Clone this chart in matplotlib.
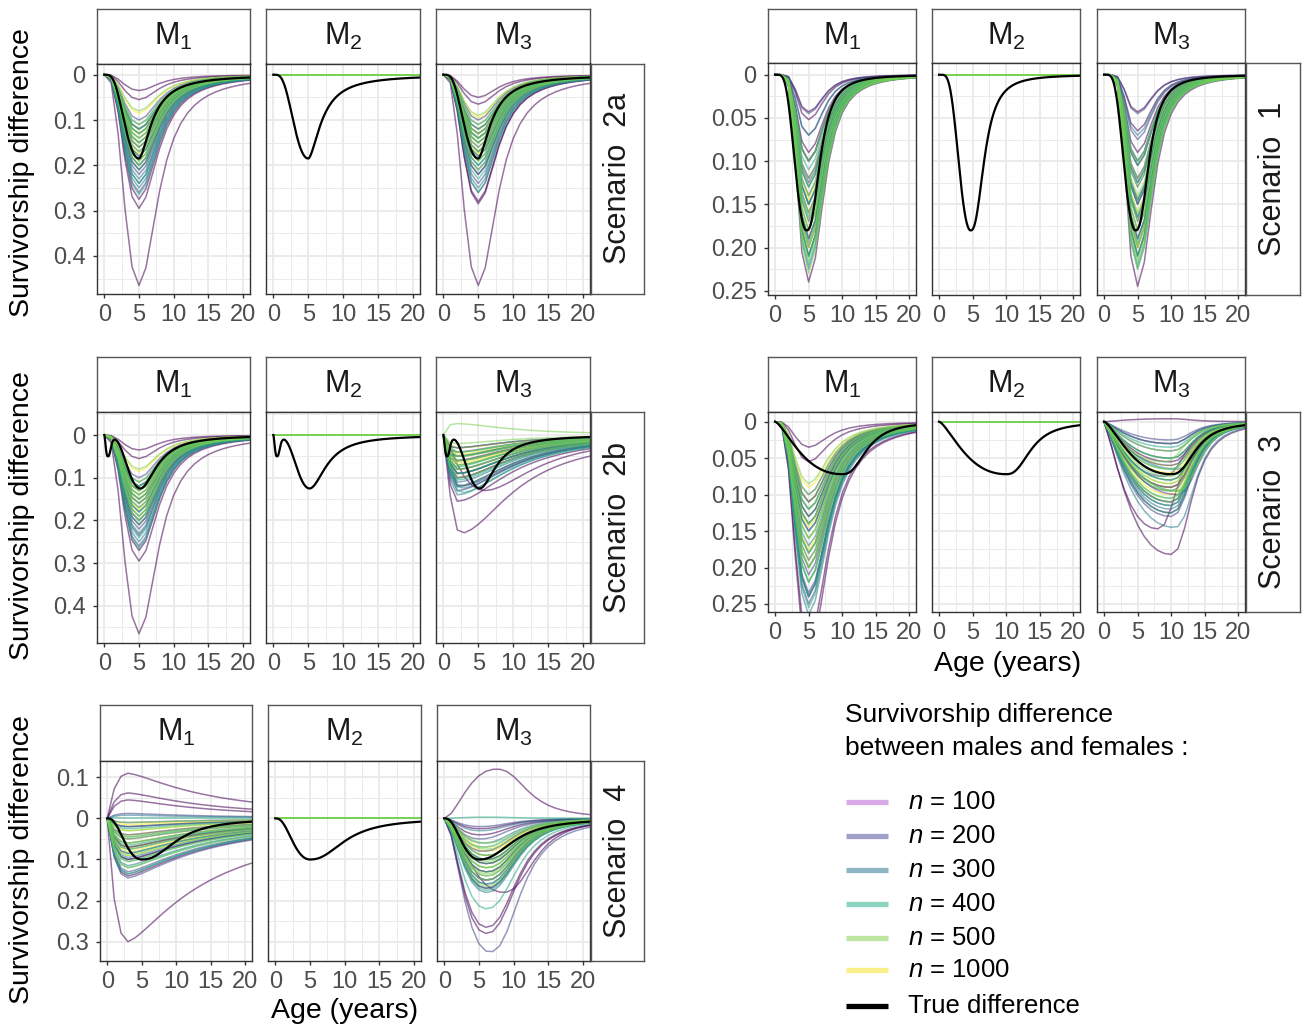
import numpy as np
import matplotlib
matplotlib.use("Agg")
import matplotlib.pyplot as plt
from matplotlib.lines import Line2D

plt.rcParams['font.family'] = ['Liberation Sans', 'DejaVu Sans']
plt.rcParams['mathtext.fontset'] = 'custom'
plt.rcParams['mathtext.rm'] = 'Liberation Sans'
plt.rcParams['mathtext.it'] = 'Liberation Sans:italic'

# ---------------------------------------------------------------- data
N_LEVELS = [100, 200, 300, 400, 500, 1000]
DRAW_ORDER = [100, 1000, 200, 300, 400, 500]      # levels sorted as text
MODELS = ['M1', 'M2', 'M3']
AGES = np.arange(0, 23)                            # yearly ages of the estimates
M2_ESTIMATE = 0.0                                  # M2 estimates no sex difference

# curve shape: (peak age, left exponent, right half-width, right exponent)
# true differences: list of components (depth, peak, k_left, w_right, q_right)
TRUTH_2A = [(0.185, 5.0, 4.5, 2.2, 1.7)]
TRUTH_1 = [(0.18, 4.7, 6.0, 2.2, 2.5)]
TRUTH_2B = [(0.05, 0.5, 2.0, 0.5, 3.0), (0.125, 5.2, 6.0, 2.85, 1.9)]
TRUTH_3 = [(0.072, 10.0, 1.5, 3.92, 2.56)]
TRUTH_4 = [(0.10, 5.0, 3.0, 5.5, 2.3)]

# estimated curves: peak depth of every replicate, one row per sample size
S2A_M1_SHAPE = (5.0, 4.0, 3.3, 2.0)
S2A_M1_DEPTH = [[0.035, 0.055, 0.465, 0.295, 0.275, 0.12, 0.16, 0.21],
                [0.10, 0.13, 0.20, 0.24, 0.26, 0.15, 0.18, 0.22],
                [0.11, 0.14, 0.17, 0.20, 0.23, 0.25, 0.12, 0.19],
                [0.12, 0.15, 0.18, 0.21, 0.24, 0.265, 0.13, 0.16],
                [0.08, 0.11, 0.13, 0.15, 0.17, 0.19, 0.20, 0.14],
                [0.085, 0.12, 0.14, 0.16, 0.175, 0.19, 0.15, 0.13]]
S2A_M3_SHAPE = (5.0, 4.0, 3.3, 2.0)
S2A_M3_DEPTH = [[0.05, 0.065, 0.465, 0.28, 0.285, 0.13, 0.17, 0.22],
                [0.10, 0.12, 0.15, 0.18, 0.21, 0.24, 0.26, 0.14],
                [0.11, 0.13, 0.16, 0.19, 0.22, 0.25, 0.14, 0.20],
                [0.12, 0.15, 0.17, 0.20, 0.23, 0.26, 0.14, 0.18],
                [0.09, 0.11, 0.13, 0.15, 0.17, 0.19, 0.21, 0.14],
                [0.095, 0.12, 0.14, 0.16, 0.175, 0.19, 0.15, 0.13]]

S1_M1_SHAPE = (4.8, 10.0, 2.8, 2.4)
S1_M1_DEPTH = [[0.043, 0.052, 0.09, 0.12, 0.24, 0.20, 0.15, 0.10],
               [0.045, 0.07, 0.10, 0.125, 0.14, 0.16, 0.19, 0.21],
               [0.07, 0.10, 0.13, 0.15, 0.17, 0.19, 0.21, 0.225],
               [0.11, 0.13, 0.15, 0.165, 0.18, 0.195, 0.21, 0.22],
               [0.10, 0.12, 0.14, 0.16, 0.18, 0.20, 0.215, 0.23],
               [0.13, 0.145, 0.16, 0.17, 0.18, 0.19, 0.20, 0.21]]
S1_M3_SHAPE = (4.8, 10.0, 2.8, 2.4)
S1_M3_DEPTH = [[0.043, 0.065, 0.09, 0.12, 0.245, 0.20, 0.15, 0.105],
               [0.045, 0.075, 0.10, 0.125, 0.145, 0.165, 0.19, 0.21],
               [0.07, 0.10, 0.13, 0.15, 0.17, 0.19, 0.21, 0.225],
               [0.105, 0.125, 0.145, 0.165, 0.18, 0.195, 0.21, 0.22],
               [0.10, 0.12, 0.14, 0.16, 0.18, 0.20, 0.215, 0.225],
               [0.13, 0.145, 0.16, 0.17, 0.18, 0.19, 0.20, 0.21]]

S2B_M1_SHAPE = (5.0, 4.0, 3.3, 2.0)
S2B_M1_DEPTH = [[0.035, 0.055, 0.465, 0.295, 0.27, 0.12, 0.16, 0.21],
                [0.10, 0.13, 0.20, 0.235, 0.26, 0.15, 0.18, 0.22],
                [0.11, 0.14, 0.17, 0.20, 0.23, 0.25, 0.12, 0.19],
                [0.12, 0.15, 0.18, 0.21, 0.24, 0.265, 0.13, 0.16],
                [0.08, 0.11, 0.13, 0.15, 0.17, 0.19, 0.20, 0.14],
                [0.085, 0.12, 0.14, 0.16, 0.175, 0.19, 0.15, 0.13]]
S2B_M3_SHAPE = (2.0, 1.5, 9.0, 1.8)
S2B_M3_DEPTH = [[0.23, 0.155, 0.13, 0.09, 0.06, 0.03, 0.10, 0.12],
                [0.04, 0.06, 0.08, 0.10, 0.12, 0.13, 0.05, 0.09],
                [0.03, 0.05, 0.07, 0.09, 0.11, 0.125, 0.14, 0.08],
                [0.04, 0.06, 0.075, 0.09, 0.105, 0.12, 0.135, 0.05],
                [-0.027, 0.02, 0.04, 0.06, 0.08, 0.10, 0.07, 0.05],
                [0.03, 0.045, 0.06, 0.07, 0.08, 0.09, 0.05, 0.065]]
S2B_M3_PEAK = [[2.5, 2.0, 6.0, 2.0, 1.5, 1.5, 2.0, 2.0],
               [1.5, 2.0, 2.0, 2.0, 2.5, 2.0, 1.5, 2.0],
               [1.5, 2.0, 2.0, 2.0, 2.0, 2.5, 2.0, 2.0],
               [2.0, 2.0, 1.5, 2.0, 2.0, 2.0, 2.5, 1.5],
               [1.5, 1.5, 2.0, 2.0, 2.0, 2.0, 2.0, 2.0],
               [2.0, 2.0, 2.0, 2.0, 2.0, 2.0, 2.0, 2.0]]

S3_M1_SHAPE = (5.0, 5.0, 3.5, 2.0)
S3_M1_DEPTH = [[0.035, 0.055, 0.32, 0.30, 0.20, 0.14, 0.11, 0.24],
               [0.10, 0.12, 0.15, 0.18, 0.21, 0.235, 0.25, 0.13],
               [0.11, 0.13, 0.15, 0.17, 0.19, 0.22, 0.24, 0.265],
               [0.12, 0.14, 0.16, 0.18, 0.20, 0.22, 0.24, 0.255],
               [0.085, 0.10, 0.12, 0.14, 0.16, 0.18, 0.20, 0.22],
               [0.09, 0.11, 0.13, 0.145, 0.16, 0.175, 0.19, 0.20]]
S3_M3_SHAPE = (10.0, 1.3, 3.5, 2.5)
S3_M3_DEPTH = [[-0.004, 0.182, 0.147, 0.03, 0.055, 0.09, 0.11, 0.125],
               [0.025, 0.04, 0.06, 0.075, 0.09, 0.10, 0.115, 0.13],
               [0.03, 0.05, 0.065, 0.08, 0.095, 0.11, 0.145, 0.12],
               [0.035, 0.05, 0.065, 0.08, 0.095, 0.105, 0.115, 0.125],
               [0.04, 0.055, 0.065, 0.075, 0.085, 0.095, 0.105, 0.11],
               [0.05, 0.06, 0.07, 0.08, 0.085, 0.09, 0.095, 0.10]]
S3_M3_PEAK = [[10, 10, 8, 10, 10, 10, 10, 10],
              [10, 10, 10, 9, 10, 11, 10, 10],
              [10, 10, 11, 10, 10, 10, 10.5, 10],
              [10, 10, 10, 10, 11, 10, 10, 10],
              [10, 9, 10, 10, 10, 11, 10, 10],
              [10, 10, 10, 10, 10, 10, 10, 10]]

S4_M1_SHAPE = (3.0, 1.0, 12.0, 1.4)
S4_M1_DEPTH = [[-0.11, -0.062, -0.045, 0.30, 0.14, 0.10, 0.02, 0.07],
               [-0.012, 0.01, 0.04, 0.07, 0.10, 0.13, 0.145, 0.085],
               [-0.008, 0.02, 0.05, 0.075, 0.095, 0.115, 0.135, 0.06],
               [0.0, 0.025, 0.045, 0.065, 0.085, 0.105, 0.12, 0.135],
               [0.01, 0.03, 0.045, 0.06, 0.075, 0.09, 0.105, 0.12],
               [0.015, 0.03, 0.04, 0.05, 0.06, 0.07, 0.08, 0.09]]
S4_M3_SHAPE = (6.0, 2.0, 5.0, 2.5)
S4_M3_DEPTH = [[-0.12, 0.28, 0.265, 0.18, 0.025, 0.04, 0.15, 0.17],
               [0.325, 0.02, 0.05, 0.08, 0.10, 0.13, 0.16, 0.11],
               [0.03, 0.06, 0.09, 0.11, 0.13, 0.15, 0.17, 0.18],
               [-0.003, 0.22, 0.07, 0.10, 0.12, 0.14, 0.16, 0.175],
               [0.06, 0.075, 0.09, 0.105, 0.12, 0.135, 0.15, 0.165],
               [0.07, 0.08, 0.09, 0.10, 0.11, 0.12, 0.13, 0.14]]
S4_M3_PEAK = [[7.5, 6, 6, 8.5, 5, 5, 6, 6],
              [6.5, 5, 5, 5.5, 6, 6, 6, 6],
              [5, 5.5, 6, 6, 6, 6, 6, 6],
              [6, 6, 5.5, 6, 6, 6, 6, 6],
              [6, 6, 6, 6, 6, 6, 6, 6],
              [6, 6, 6, 6, 6, 6, 6, 6]]

# y ticks (values are male minus female; labels show magnitudes)
YT_DEC1 = [0, -0.1, -0.2, -0.3, -0.4]
YL_DEC1 = ['0', '0.1', '0.2', '0.3', '0.4']
YT_DEC2 = [0, -0.05, -0.10, -0.15, -0.20, -0.25]
YL_DEC2 = ['0', '0.05', '0.10', '0.15', '0.20', '0.25']
YT_S4 = [0.1, 0, -0.1, -0.2, -0.3]
YL_S4 = ['0.1', '0', '0.1', '0.2', '0.3']
XT = [0, 5, 10, 15, 20]

LEGEND_LABELS = [r'$\it{n}$ = %d' % n for n in N_LEVELS] + ['True difference']

# ---------------------------------------------------------------- style
LINE_COLORS = {100: '#440154', 200: '#414487', 300: '#2A788E',
               400: '#22A884', 500: '#7AD151', 1000: '#FDE725'}
KEY_COLORS = ['#d9a8e8', '#a0a0c8', '#8fb5c3', '#8dd5c0', '#bde6a0', '#fbef8a', '#000000']
GRID = '#ebebeb'
FRAME = '#333333'
TICKLAB = '#4d4d4d'

W, H = 1309, 1030
fig = plt.figure(figsize=(W / 100, H / 100), dpi=100)
fig.patch.set_facecolor('white')


def bump(x, peak, k_left, w_right, q_right):
    x = np.asarray(x, float)
    r = np.clip(x / peak, 0, None)
    left = r ** k_left * np.exp(k_left * (1 - r))
    d = np.clip(x - peak, 0, None)
    right = 1.0 / (1.0 + (d / w_right) ** q_right)
    return np.where(x <= peak, left, right)


def truth_curve(x, comps):
    return -sum(dep * bump(x, p, kl, wr, qr) for dep, p, kl, wr, qr in comps)


def add_box(l, t, r, b):
    return fig.add_axes([l / W, 1 - b / H, (r - l) / W, (b - t) / H])


def draw_group(spec):
    (strip_top, top, bottom, xs, scen_x, ylim, yticks, ylabels,
     label, truth, est) = spec
    step = abs(yticks[1] - yticks[0])
    minor = np.arange(yticks[0] + step / 2, yticks[-1] - step, -step)
    for i, (l, r) in enumerate(xs):
        # facet strip
        sax = add_box(l, strip_top, r, top)
        sax.set_xticks([]); sax.set_yticks([])
        for s in sax.spines.values():
            s.set_color('#555555'); s.set_linewidth(1.0)
        sax.text(0.5, 0.5, r'$\mathregular{M_%d}$' % (i + 1), fontsize=22,
                 color='#1a1a1a', ha='center', va='center', transform=sax.transAxes)

        ax = add_box(l, top, r, bottom)
        ax.set_xticks(XT)
        ax.set_xticks([2.5, 7.5, 12.5, 17.5], minor=True)
        ax.set_xticklabels([str(v) for v in XT])
        ax.set_yticks(yticks)
        ax.set_yticks(minor, minor=True)
        ax.grid(which='major', color=GRID, lw=1.4)
        ax.grid(which='minor', color=GRID, lw=0.7)
        ax.set_axisbelow(True)
        for s in ax.spines.values():
            s.set_color(FRAME); s.set_linewidth(1.0)
        ax.tick_params(which='major', length=3.2, width=1, color=FRAME,
                       labelsize=17, labelcolor=TICKLAB, pad=4)
        ax.tick_params(which='minor', length=0)
        if i == 0:
            ax.set_yticklabels(ylabels)
            ax.tick_params(axis='y', pad=5)
        else:
            ax.tick_params(axis='y', which='both', left=False, labelleft=False)

        model = MODELS[i]
        for lev in DRAW_ORDER:
            k = N_LEVELS.index(lev)
            if model == 'M2':
                for _ in range(8):
                    ax.plot(AGES, np.full(AGES.shape, M2_ESTIMATE),
                            color=LINE_COLORS[lev], alpha=0.6, lw=1.4)
                continue
            shape, depth, peak = est[model]
            for j, dep in enumerate(depth[k]):
                p = peak[k][j] if peak is not None else shape[0]
                y = -dep * bump(AGES, p, shape[1], shape[2], shape[3])
                ax.plot(AGES, y, color=LINE_COLORS[lev], alpha=0.55, lw=1.1)
        xf = np.linspace(0, 22, 500)
        ax.plot(xf, truth_curve(xf, truth), color='black', lw=1.6)
        # axis limits last, so tick setting cannot widen them
        ax.set_xlim(-1.05, 21)
        ax.set_ylim(*ylim)

    # scenario strip on the right
    sl, sr = scen_x
    cax = add_box(sl, top, sr, bottom)
    cax.set_xticks([]); cax.set_yticks([])
    for s in cax.spines.values():
        s.set_color('#555555'); s.set_linewidth(1.0)
    cax.text(0.5, 0.5, label, fontsize=22, color='#1a1a1a', rotation=90,
             ha='center', va='center', transform=cax.transAxes)


XS_LEFT = [(97, 250), (266, 420), (436, 590)]
XS_RIGHT = [(768, 916), (932, 1080), (1097, 1245)]
XS_BOTTOM = [(100, 252), (268, 421), (437, 590)]

groups = [
    (9.3, 63.5, 294, XS_LEFT, (591, 644), (-0.484, 0.0247), YT_DEC1, YL_DEC1,
     'Scenario  2a', TRUTH_2A,
     {'M1': (S2A_M1_SHAPE, S2A_M1_DEPTH, None), 'M3': (S2A_M3_SHAPE, S2A_M3_DEPTH, None)}),
    (9.3, 63.3, 294.7, XS_RIGHT, (1246, 1300), (-0.2543, 0.0132), YT_DEC2, YL_DEC2,
     'Scenario  1', TRUTH_1,
     {'M1': (S1_M1_SHAPE, S1_M1_DEPTH, None), 'M3': (S1_M3_SHAPE, S1_M3_DEPTH, None)}),
    (356.7, 411.7, 642.7, XS_LEFT, (591, 644), (-0.486, 0.0546), YT_DEC1, YL_DEC1,
     'Scenario  2b', TRUTH_2B,
     {'M1': (S2B_M1_SHAPE, S2B_M1_DEPTH, None), 'M3': (S2B_M3_SHAPE, S2B_M3_DEPTH, S2B_M3_PEAK)}),
    (357.3, 411.7, 611.7, XS_RIGHT, (1246, 1300), (-0.2606, 0.0137), YT_DEC2, YL_DEC2,
     'Scenario  3', TRUTH_3,
     {'M1': (S3_M1_SHAPE, S3_M1_DEPTH, None), 'M3': (S3_M3_SHAPE, S3_M3_DEPTH, S3_M3_PEAK)}),
    (705, 760.7, 961, XS_BOTTOM, (591, 644), (-0.347, 0.1404), YT_S4, YL_S4,
     'Scenario  4', TRUTH_4,
     {'M1': (S4_M1_SHAPE, S4_M1_DEPTH, None), 'M3': (S4_M3_SHAPE, S4_M3_DEPTH, S4_M3_PEAK)}),
]
for g in groups:
    draw_group(g)

# axis titles
for yc in (173, 516, 860):
    fig.text(22 / W, 1 - yc / H, 'Survivorship difference', rotation=90,
             fontsize=20.5, ha='center', va='center', color='black')
fig.text(1008 / W, 1 - 664 / H, 'Age (years)', fontsize=20.5, ha='center', va='center')
fig.text(345 / W, 1 - 1011 / H, 'Age (years)', fontsize=20.5, ha='center', va='center')

# legend
fig.text(845 / W, 1 - 715 / H, 'Survivorship difference', fontsize=19, ha='left', va='center')
fig.text(845 / W, 1 - 748 / H, 'between males and females :', fontsize=19, ha='left', va='center')
key_y = [801.7, 835.7, 870.3, 904, 937.7, 970.3, 1005.7]
for lab, col, yk in zip(LEGEND_LABELS, KEY_COLORS, key_y):
    fig.add_artist(Line2D([846 / W, 888 / W], [1 - yk / H] * 2, color=col, lw=3.8,
                          transform=fig.transFigure, solid_capstyle='butt'))
    fig.text(908 / W, 1 - yk / H, lab, fontsize=18.5, ha='left', va='center')

fig.savefig('out.png', dpi=100, facecolor='white')
